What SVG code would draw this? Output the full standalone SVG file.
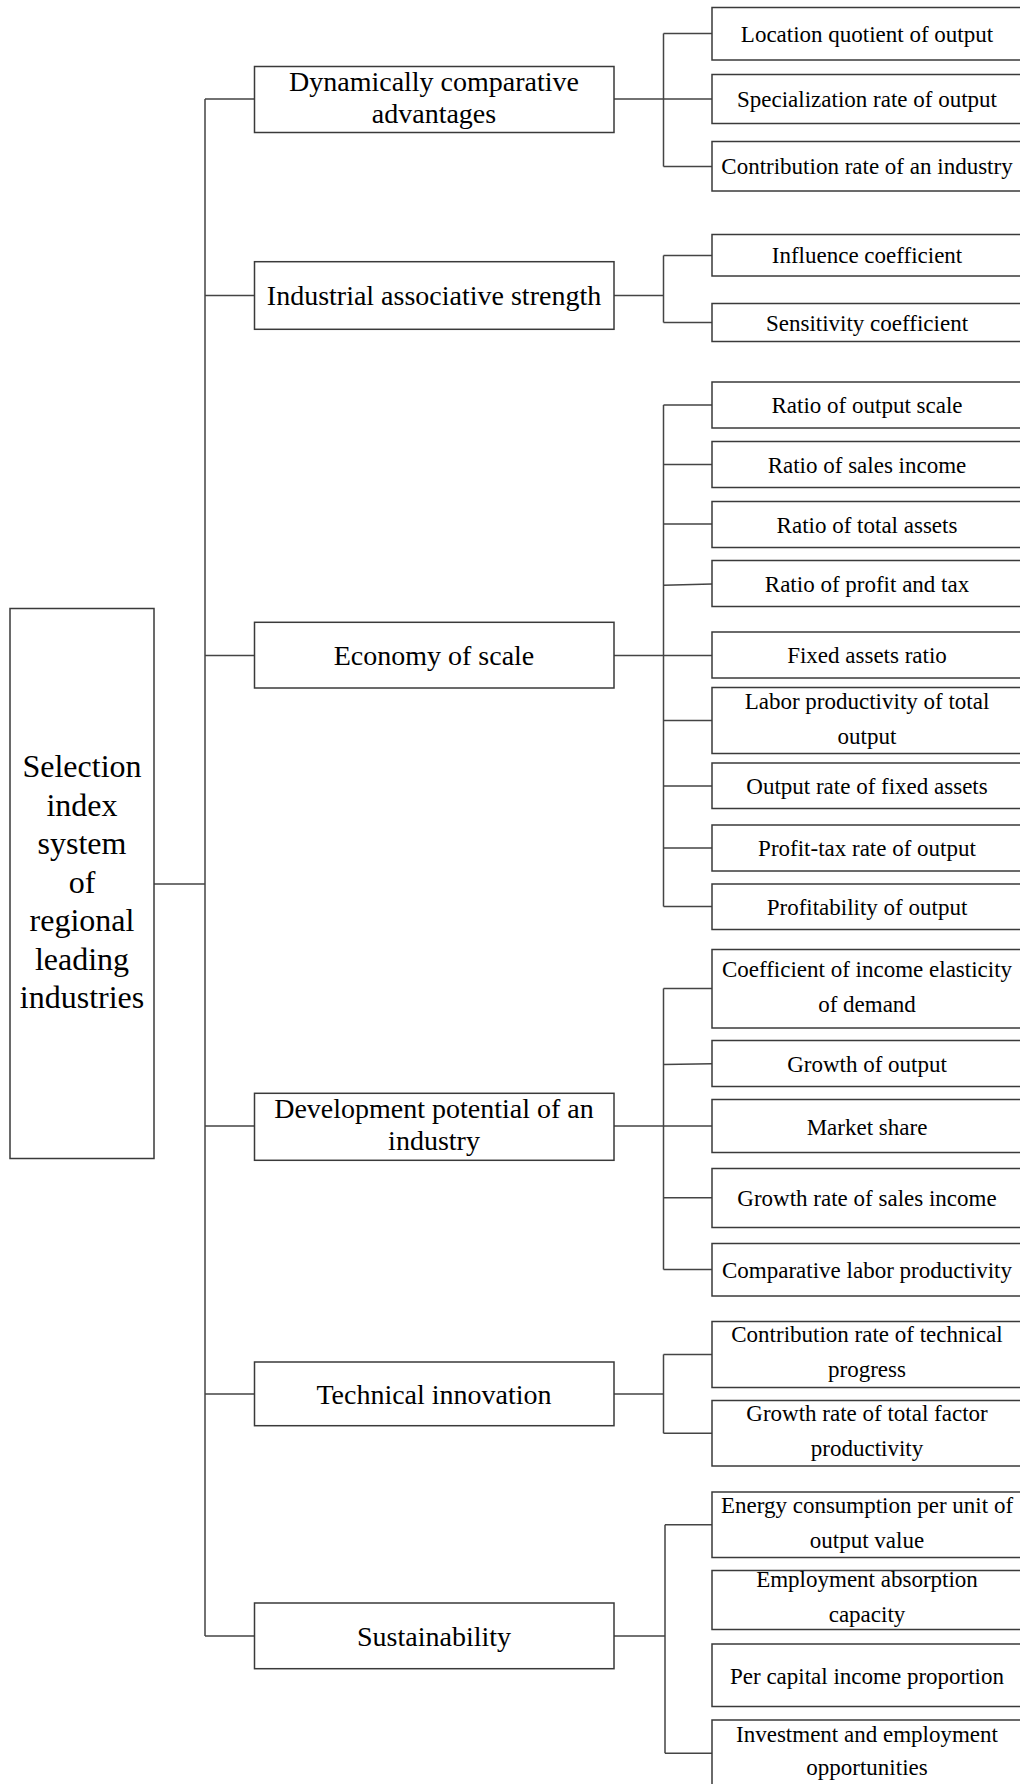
<svg xmlns="http://www.w3.org/2000/svg" width="1020" height="1784" viewBox="0 0 1020 1784">
<style>
.box{fill:#fff;stroke:#3a3a3a;stroke-width:1.5}
.ln{fill:none;stroke:#444;stroke-width:1.5}
text{font-family:"Liberation Serif","Times New Roman",serif;fill:#000;text-anchor:middle}
.r{font-size:32px}
.m{font-size:28px}
.l{font-size:23px}
</style>
<rect width="1020" height="1784" fill="#fff"/>
<g id="connectors">
<path class="ln" d="M205 99V1636M205 99H254M205 295.5H254M205 655.5H254M154 884H205M205 1126H254M205 1394H254M205 1636H254"/>
<path class="ln" d="M614 99H712M663.5 33.5V166.5M663.5 33.5H712M663.5 166.5H712"/>
<path class="ln" d="M614 295.5H663.5M663.5 255.5V322.5M663.5 255.5H712M663.5 322.5H712"/>
<path class="ln" d="M614 655.5H712M663.5 405V906.5M663.5 405H712M663.5 464.5H712M663.5 524H712M663.5 585.3L712 584M663.5 720.5H712M663.5 786H712M663.5 848H712M663.5 906.5H712"/>
<path class="ln" d="M614 1126H712M663.5 988.5V1269.5M663.5 988.5H712M663.5 1064.5L712 1063.8M663.5 1197.7H712M663.5 1269.5H712"/>
<path class="ln" d="M614 1394H663.5M663.5 1354.5V1433.3M663.5 1354.5H712M663.5 1433.3H712"/>
<path class="ln" d="M614 1636H665M665 1524.7V1753.3M665 1524.7H712M665 1753.3H712"/>
</g>
<g id="root">
<rect class="box" x="10" y="608.5" width="144" height="550"/>
<text class="r" x="82" y="777">Selection</text>
<text class="r" x="82" y="815.5">index</text>
<text class="r" x="82" y="854">system</text>
<text class="r" x="82" y="892.5">of</text>
<text class="r" x="82" y="931">regional</text>
<text class="r" x="82" y="969.5">leading</text>
<text class="r" x="82" y="1008">industries</text>
</g>
<g id="mid-dynamic">
<rect class="box" x="254.5" y="66.5" width="359.5" height="66"/>
<text class="m" x="434" y="90.7">Dynamically comparative</text>
<text class="m" x="434" y="122.5">advantages</text>
</g>
<g id="mid-industrial">
<rect class="box" x="254.5" y="261.7" width="359.5" height="67.6"/>
<text class="m" x="434" y="305">Industrial associative strength</text>
</g>
<g id="mid-economy">
<rect class="box" x="254.5" y="622.3" width="359.5" height="65.7"/>
<text class="m" x="434" y="664.7">Economy of scale</text>
</g>
<g id="mid-development">
<rect class="box" x="254.5" y="1093.3" width="359.5" height="67"/>
<text class="m" x="434" y="1118.3">Development potential of an</text>
<text class="m" x="434" y="1149.5">industry</text>
</g>
<g id="mid-technical">
<rect class="box" x="254.5" y="1362" width="359.5" height="63.7"/>
<text class="m" x="434" y="1403.5">Technical innovation</text>
</g>
<g id="mid-sustainability">
<rect class="box" x="254.5" y="1603" width="359.5" height="65.7"/>
<text class="m" x="434" y="1645.5">Sustainability</text>
</g>
<g id="leaf-1"><rect class="box" x="712" y="7.5" width="312" height="52.5"/><text class="l" x="867" y="41.8">Location quotient of output</text></g>
<g id="leaf-2"><rect class="box" x="712" y="74.5" width="312" height="49"/><text class="l" x="867" y="107">Specialization rate of output</text></g>
<g id="leaf-3"><rect class="box" x="712" y="141.5" width="312" height="49.5"/><text class="l" x="867" y="174.3">Contribution rate of an industry</text></g>
<g id="leaf-4"><rect class="box" x="712" y="234.5" width="312" height="41.5"/><text class="l" x="867" y="263.3">Influence coefficient</text></g>
<g id="leaf-5"><rect class="box" x="712" y="303.5" width="312" height="38"/><text class="l" x="867" y="330.5">Sensitivity coefficient</text></g>
<g id="leaf-6"><rect class="box" x="712" y="382" width="312" height="46"/><text class="l" x="867" y="413">Ratio of output scale</text></g>
<g id="leaf-7"><rect class="box" x="712" y="441.5" width="312" height="46"/><text class="l" x="867" y="472.5">Ratio of sales income</text></g>
<g id="leaf-8"><rect class="box" x="712" y="501.5" width="312" height="46"/><text class="l" x="867" y="532.5">Ratio of total assets</text></g>
<g id="leaf-9"><rect class="box" x="712" y="560.5" width="312" height="46"/><text class="l" x="867" y="591.5">Ratio of profit and tax</text></g>
<g id="leaf-10"><rect class="box" x="712" y="632" width="312" height="46"/><text class="l" x="867" y="663">Fixed assets ratio</text></g>
<g id="leaf-11"><rect class="box" x="712" y="687.5" width="312" height="66"/><text class="l" x="867" y="708.5">Labor productivity of total</text><text class="l" x="867" y="743.5">output</text></g>
<g id="leaf-12"><rect class="box" x="712" y="763" width="312" height="45.5"/><text class="l" x="867" y="793.8">Output rate of fixed assets</text></g>
<g id="leaf-13"><rect class="box" x="712" y="825" width="312" height="46"/><text class="l" x="867" y="856">Profit-tax rate of output</text></g>
<g id="leaf-14"><rect class="box" x="712" y="884" width="312" height="45.5"/><text class="l" x="867" y="914.8">Profitability of output</text></g>
<g id="leaf-15"><rect class="box" x="712" y="949.5" width="312" height="78.5"/><text class="l" x="867" y="976.5">Coefficient of income elasticity</text><text class="l" x="867" y="1011.7">of demand</text></g>
<g id="leaf-16"><rect class="box" x="712" y="1040.5" width="312" height="46"/><text class="l" x="867" y="1071.5">Growth of output</text></g>
<g id="leaf-17"><rect class="box" x="712" y="1099.5" width="312" height="53"/><text class="l" x="867" y="1134.5">Market share</text></g>
<g id="leaf-18"><rect class="box" x="712" y="1168.5" width="312" height="59"/><text class="l" x="867" y="1206">Growth rate of sales income</text></g>
<g id="leaf-19"><rect class="box" x="712" y="1243.5" width="312" height="52.5"/><text class="l" x="867" y="1277.8">Comparative labor productivity</text></g>
<g id="leaf-20"><rect class="box" x="712" y="1321.5" width="312" height="66"/><text class="l" x="867" y="1342">Contribution rate of technical</text><text class="l" x="867" y="1377">progress</text></g>
<g id="leaf-21"><rect class="box" x="712" y="1400.5" width="312" height="65.5"/><text class="l" x="867" y="1420.5">Growth rate of total factor</text><text class="l" x="867" y="1455.5">productivity</text></g>
<g id="leaf-22"><rect class="box" x="712" y="1492" width="312" height="65.5"/><text class="l" x="867" y="1512.7">Energy consumption per unit of</text><text class="l" x="867" y="1547.5">output value</text></g>
<g id="leaf-23"><rect class="box" x="712" y="1570.5" width="312" height="59"/><text class="l" x="867" y="1587">Employment absorption</text><text class="l" x="867" y="1621.7">capacity</text></g>
<g id="leaf-24"><rect class="box" x="712" y="1644" width="312" height="62.5"/><text class="l" x="867" y="1684">Per capital income proportion</text></g>
<g id="leaf-25"><rect class="box" x="712" y="1720" width="312" height="72"/><text class="l" x="867" y="1741.7">Investment and employment</text><text class="l" x="867" y="1775">opportunities</text></g>
</svg>
